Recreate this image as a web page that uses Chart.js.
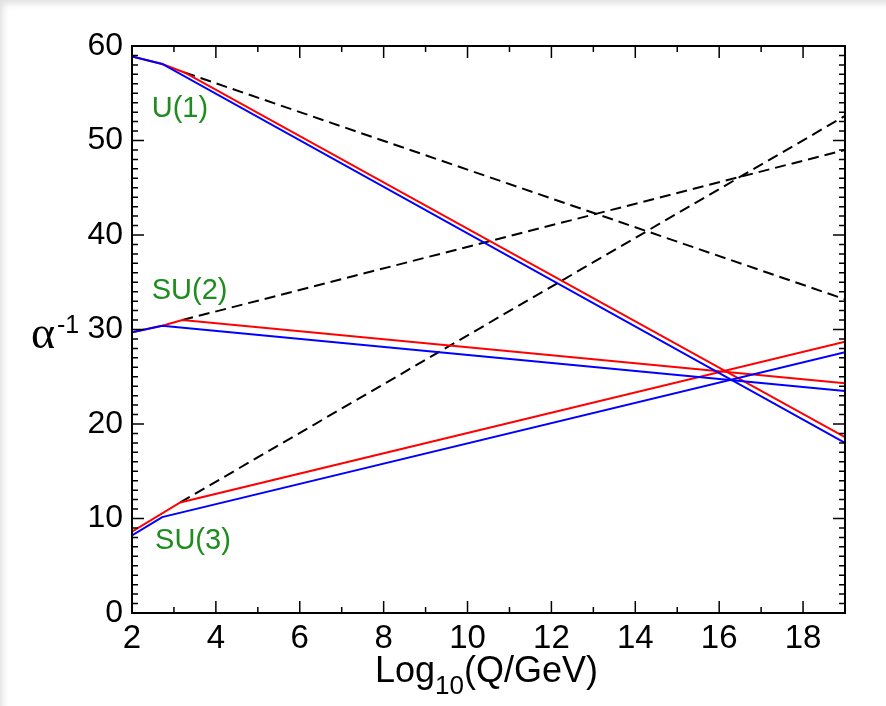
<!DOCTYPE html>
<html>
<head>
<meta charset="utf-8">
<script src="https://cdn.jsdelivr.net/npm/chart.js@4.4.1/dist/chart.umd.min.js"></script>
<style>
  html, body { margin: 0; padding: 0; background: #fff; }
  #wrap { position: relative; width: 886px; height: 706px; }
  #shade { position: absolute; left: 0; top: 0; width: 886px; height: 706px; pointer-events: none;
           box-shadow: inset 5px 6px 6px -2px #e2e2e2; }
</style>
</head>
<body>
<div id="wrap">
  <canvas id="myChart" width="886" height="706"></canvas>
  <div id="shade"></div>
</div>
<script>
// Data (x = log10(Q/GeV), y = 1/alpha)
const u1BlueX = [2, 2.72, 19];
const u1BlueY = [58.9, 58.1, 18.0];
const u1RedX = [2, 2.72, 3.25, 19];
const u1RedY = [58.9, 58.1, 57.2, 18.6];
const u1DashX = [3.25, 19];
const u1DashY = [57.2, 33.2];

const su2BlueX = [2, 2.72, 19];
const su2BlueY = [29.7, 30.4, 23.5];
const su2RedX = [2, 2.72, 3.2, 19];
const su2RedY = [29.7, 30.4, 31.0, 24.3];
const su2DashX = [3.2, 19];
const su2DashY = [31.0, 49.0];

const su3BlueX = [2, 2.72, 19];
const su3BlueY = [8.2, 10.15, 27.6];
const su3RedX = [2, 3.15, 19];
const su3RedY = [8.6, 11.7, 28.7];
const su3DashX = [3.15, 19];
const su3DashY = [11.7, 52.6];

const xTickLabels = [2, 4, 6, 8, 10, 12, 14, 16, 18];
const yTickLabels = [0, 10, 20, 30, 40, 50, 60];

// group labels: [text, x, y]
const groupLabels = [
  ['U(1)', 2.47, 52.5],
  ['SU(2)', 2.47, 33.2],
  ['SU(3)', 2.55, 6.8]
];

const FONT = '"Liberation Sans", Arial, Helvetica, sans-serif';

function pts(xs, ys) {
  return xs.map((x, i) => ({ x: x, y: ys[i] }));
}

function solid(xs, ys, color, order) {
  return { data: pts(xs, ys), borderColor: color, borderWidth: 2, pointRadius: 0, fill: false, tension: 0, order: order };
}
function dashed(xs, ys) {
  return { data: pts(xs, ys), borderColor: '#000', borderWidth: 2, borderDash: [11, 6], pointRadius: 0, fill: false, tension: 0, order: 3 };
}

// inward ticks, frame and extra text
const framePlugin = {
  id: 'frame',
  afterDraw(chart) {
    const c = chart.ctx;
    const xs = chart.scales.x, ys = chart.scales.y;
    const a = chart.chartArea;
    c.save();
    c.strokeStyle = '#000';
    c.lineWidth = 1.5;
    c.beginPath();
    for (let v = 2; v <= 19; v++) {
      const px = xs.getPixelForValue(v);
      const len = v % 2 === 0 ? 12 : 6;
      c.moveTo(px, a.bottom); c.lineTo(px, a.bottom - len);
      c.moveTo(px, a.top); c.lineTo(px, a.top + len);
    }
    for (let v = 0; v <= 60; v++) {
      const py = ys.getPixelForValue(v);
      const len = v % 10 === 0 ? 12 : 6;
      c.moveTo(a.left, py); c.lineTo(a.left + len, py);
      c.moveTo(a.right, py); c.lineTo(a.right - len, py);
    }
    c.stroke();
    c.lineWidth = 2;
    c.strokeRect(a.left, a.top, a.right - a.left, a.bottom - a.top);

    // group labels
    c.fillStyle = '#1f8c1f';
    c.font = '29px ' + FONT;
    c.textBaseline = 'alphabetic';
    groupLabels.forEach(g => {
      c.fillText(g[0], xs.getPixelForValue(g[1]), ys.getPixelForValue(g[2]));
    });

    // x title: Log10(Q/GeV)
    c.fillStyle = '#000';
    c.font = '36px ' + FONT;
    let tx = 375;
    c.fillText('Log', tx, 682);
    tx += c.measureText('Log').width;
    c.font = '26px ' + FONT;
    c.fillText('10', tx, 694);
    tx += c.measureText('10').width;
    c.font = '36px ' + FONT;
    c.fillText('(Q/GeV)', tx, 682);

    // y title: alpha^-1
    c.font = '46px "Liberation Serif", "DejaVu Serif", serif';
    c.fillText('\u03b1', 31, 348);
    c.font = '25px ' + FONT;
    c.fillText('-1', 57, 333);
    c.restore();
  }
};

const ctx = document.getElementById('myChart');
const myChart = new Chart(ctx, {
  type: 'line',
  data: {
    datasets: [
      dashed(u1DashX, u1DashY),
      dashed(su2DashX, su2DashY),
      dashed(su3DashX, su3DashY),
      solid(u1RedX, u1RedY, '#ff0000', 2),
      solid(su2RedX, su2RedY, '#ff0000', 2),
      solid(su3RedX, su3RedY, '#ff0000', 2),
      solid(u1BlueX, u1BlueY, '#0000ff', 1),
      solid(su2BlueX, su2BlueY, '#0000ff', 1),
      solid(su3BlueX, su3BlueY, '#0000ff', 1)
    ]
  },
  options: {
    responsive: false,
    animation: false,
    layout: { padding: { top: 46, right: 41, left: 0, bottom: 0 } },
    plugins: { legend: { display: false }, tooltip: { enabled: false } },
    scales: {
      x: {
        type: 'linear', min: 2, max: 19,
        grid: { display: false, drawTicks: false }, border: { display: false },
        afterFit: s => { s.height = 93; },
        ticks: {
          stepSize: 1, autoSkip: false, maxRotation: 0, padding: 6,
          color: '#000', font: { family: FONT, size: 33 },
          callback: v => xTickLabels.includes(v) ? String(v) : ''
        }
      },
      y: {
        type: 'linear', min: 0, max: 60,
        grid: { display: false, drawTicks: false }, border: { display: false },
        afterFit: s => { s.width = 132; },
        ticks: {
          stepSize: 1, autoSkip: false, padding: 9,
          color: '#000', font: { family: FONT, size: 32 },
          callback: v => yTickLabels.includes(v) ? String(v) : ''
        }
      }
    }
  },
  plugins: [framePlugin]
});
</script>
</body>
</html>
